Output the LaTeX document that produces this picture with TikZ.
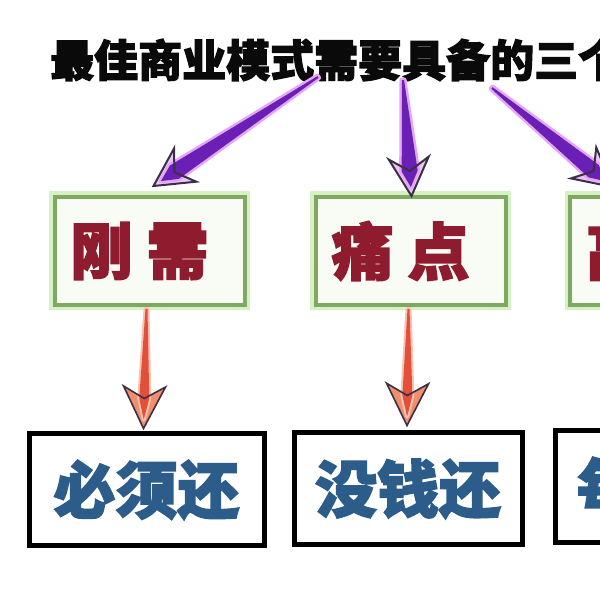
\documentclass[tikz,border=0pt]{standalone}
\usepackage{fontspec}
\newfontfamily\cjk{Noto Sans CJK SC}
\newfontfamily\cjkheavy{Noto Sans CJK SC}[FakeBold=2.5]
\usetikzlibrary{calc}
\definecolor{titleblack}{HTML}{0A0A0A}
\definecolor{boxgreen}{HTML}{7FA860}
\definecolor{glowgreen}{HTML}{D6F2C4}
\definecolor{boxfill}{HTML}{F8FCF4}
\definecolor{redtext}{HTML}{8E1B2E}
\definecolor{bluetext}{HTML}{2B5C8A}
\definecolor{purpleshaft}{HTML}{6A1FB5}
\definecolor{purpleglow}{HTML}{E7A6F4}
\definecolor{purplehead}{HTML}{E9C8F4}
\definecolor{headline}{HTML}{3B2F45}
\definecolor{redshaft}{HTML}{E2503A}
\definecolor{redglow}{HTML}{F9C2B2}
\definecolor{redhead}{HTML}{F0906A}
\tikzset{
  greenbox/.style={draw=boxgreen, line width=4pt, fill=boxfill,
    preaction={draw=glowgreen, line width=11pt},
    minimum width=190pt, minimum height=108pt, inner sep=0pt,
    text=redtext, font=\cjkheavy\bfseries\fontsize{62}{62}\selectfont},
  blackbox/.style={draw=black, line width=5pt, fill=white,
    minimum height=112pt, inner sep=0pt,
    text=bluetext, font=\cjkheavy\bfseries\fontsize{62}{62}\selectfont},
  titletext/.style={anchor=west, inner sep=0pt, text=titleblack,
    font=\cjkheavy\bfseries\fontsize{44}{44}\selectfont},
  purpleshaftstyle/.style={fill=purpleshaft, preaction={draw=purpleglow, line width=5pt, line join=round}},
  purpleheadfill/.style={fill=purplehead},
  purpleheadline/.style={draw=headline, line width=2pt, line join=miter},
  redshaftstyle/.style={fill=redshaft, preaction={draw=redglow, line width=4pt, line join=round}},
  redheadfill/.style={fill=redhead},
  redheadline/.style={draw=headline, line width=1.6pt, line join=miter},
}
% #1 start, #2 tip, #3 head length, #4 notch depth, #5 wing half width,
% #6 shaft half width, #7 shaft style, #8 head fill style, #9 head line style
\newcommand{\fancyarrow}[9]{%
  \coordinate (fa-hb) at ($(#2)!#3!(#1)$);
  \coordinate (fa-nt) at ($(#2)!#4!(#1)$);
  \coordinate (fa-in) at ($(#2)!9pt!(#1)$);
  \coordinate (fa-wl) at ($(fa-hb)!#5!90:(#2)$);
  \coordinate (fa-wr) at ($(fa-hb)!#5!-90:(#2)$);
  \coordinate (fa-sl) at ($(fa-nt)!#6!90:(#2)$);
  \coordinate (fa-sr) at ($(fa-nt)!#6!-90:(#2)$);
  \coordinate (fa-tl) at ($(#1)!1pt!90:(#2)$);
  \coordinate (fa-tr) at ($(#1)!1pt!-90:(#2)$);
  \path[#8] (#2) -- (fa-wl) -- (fa-nt) -- (fa-wr) -- cycle;
  \path[#7] (fa-tl) -- (fa-sl) -- (fa-in) -- (fa-sr) -- (fa-tr) -- cycle;
  \path[#9] (#2) -- (fa-wl) -- (fa-nt) -- (fa-wr) -- cycle;
}
\begin{document}
\begin{tikzpicture}[x=1pt, y=1pt]
  \useasboundingbox (0,0) rectangle (600,600);
  \clip (0,0) rectangle (600,600);
  \fill[white] (0,0) rectangle (600,600);

  % title
  \node[titletext] (title) at (50,540) {最佳商业模式需要具备的三个};

  % first row
  \node[greenbox] (g1) at (149.5,349) {刚\hspace{14pt}需\hspace*{20pt}};
  \node[greenbox] (g2) at (410.5,349) {痛\hspace{14pt}点\hspace*{20pt}};
  \node[greenbox] (g3) at (665,349) {高\hspace{14pt}频\hspace*{20pt}};

  % second row
  \node[blackbox, minimum width=235pt] (b1) at (146.5,110) {必须还};
  \node[blackbox, minimum width=228pt] (b2) at (408,111) {没钱还};
  \node[blackbox, minimum width=230pt] (b3) at (670,113) {每月还};

  % purple arrows
  \coordinate (p1) at (318,523);
  \coordinate (p2) at (403,520);
  \coordinate (p3) at (492,512);
  \coordinate (t1) at ($(g1.north)+(4,9)$);
  \coordinate (t2) at ($(g2.north)+(1,-1)$);
  \coordinate (t3) at ($(g3.north)+(-52,8)$);
  \fancyarrow{p1}{t1}{38pt}{25pt}{20pt}{8pt}{purpleshaftstyle}{purpleheadfill}{purpleheadline}
  \fancyarrow{p2}{t2}{38pt}{25pt}{20pt}{8pt}{purpleshaftstyle}{purpleheadfill}{purpleheadline}
  \fancyarrow{p3}{t3}{38pt}{25pt}{20pt}{8pt}{purpleshaftstyle}{purpleheadfill}{purpleheadline}

  % red arrows
  \coordinate (r1s) at ($(g1.south)+(-3,-2)$);
  \coordinate (r1e) at ($(b1.north)+(-3,3)$);
  \coordinate (r2s) at ($(g2.south)+(-2,-2)$);
  \coordinate (r2e) at ($(b2.north)+(-1,5)$);
  \fancyarrow{r1s}{r1e}{42pt}{30pt}{21pt}{5pt}{redshaftstyle}{redheadfill}{redheadline}
  \fancyarrow{r2s}{r2e}{42pt}{30pt}{21pt}{5pt}{redshaftstyle}{redheadfill}{redheadline}
\end{tikzpicture}
\end{document}
